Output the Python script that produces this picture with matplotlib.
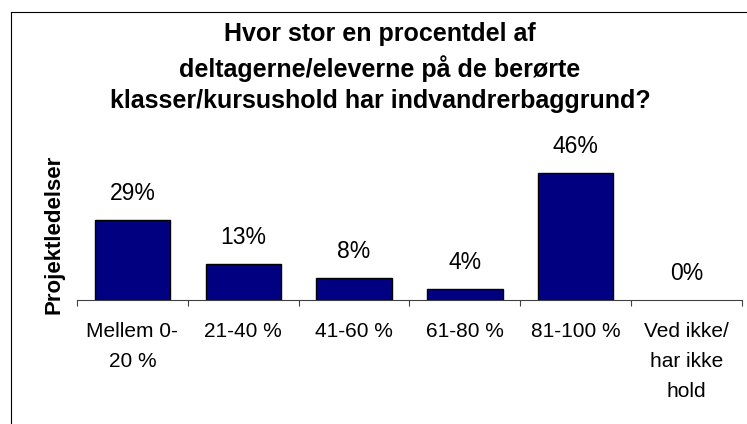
import matplotlib
matplotlib.use("Agg")
import matplotlib.pyplot as plt
from matplotlib.lines import Line2D

categories = ["Mellem 0-\n20 %", "21-40 %", "41-60 %", "61-80 %", "81-100 %", "Ved ikke/\nhar ikke\nhold"]
values = [29, 13, 8, 4, 46, 0]
value_labels = ["29%", "13%", "8%", "4%", "46%", "0%"]

plt.rcParams["font.family"] = ["Liberation Sans", "DejaVu Sans"]

W, H = 747, 424
fig = plt.figure(figsize=(W / 100, H / 100), dpi=100)
fig.patch.set_facecolor("white")

# zone du graphique (pixels convertis en fraction)
ax = fig.add_axes([77 / W, (H - 300) / H, (742 - 77) / W, 138.5 / H])
x = list(range(len(values)))
bars = ax.bar(x, values, width=0.68, color="#000080", edgecolor="black", linewidth=1)
for b, v in zip(bars, values):
    if v == 0:
        b.set_visible(False)
ax.set_xlim(-0.5, len(values) - 0.5)
ax.set_ylim(0, 50)

for xi, v, lab in zip(x, values, value_labels):
    ax.annotate(lab, (xi, v), xytext=(0, 19), textcoords="offset points",
                ha="center", va="center", fontsize=16.5)

ax.set_xticks(x)
ax.set_xticklabels(categories, fontsize=15, linespacing=1.72)
ax.tick_params(axis="x", which="major", length=0, pad=16)
ax.set_xticks([i - 0.5 for i in range(len(values) + 1)], minor=True)
ax.tick_params(axis="x", which="minor", length=4, width=0.8, color="#404040", direction="out")
ax.set_yticks([])
for s in ["top", "right", "left"]:
    ax.spines[s].set_visible(False)
ax.spines["bottom"].set_color("#404040")
ax.spines["bottom"].set_linewidth(0.8)

fig.text(380 / W, 1 - 22 / H,
         "Hvor stor en procentdel af\ndeltagerne/eleverne på de berørte\nklasser/kursushold har indvandrerbaggrund?",
         ha="center", va="top", fontsize=18, fontweight="bold", linespacing=1.4)

fig.text(54 / W, 1 - 234 / H, "Projektledelser", rotation=90, ha="center", va="center",
         fontsize=16, fontweight="bold")

# cadre (bords droit et bas coupés)
fig.add_artist(Line2D([11 / W, 11 / W], [0, 1 - 12 / H], color="black", linewidth=0.8))
fig.add_artist(Line2D([11 / W, 1], [1 - 12 / H, 1 - 12 / H], color="black", linewidth=0.8))

fig.savefig("out.png", dpi=100)
